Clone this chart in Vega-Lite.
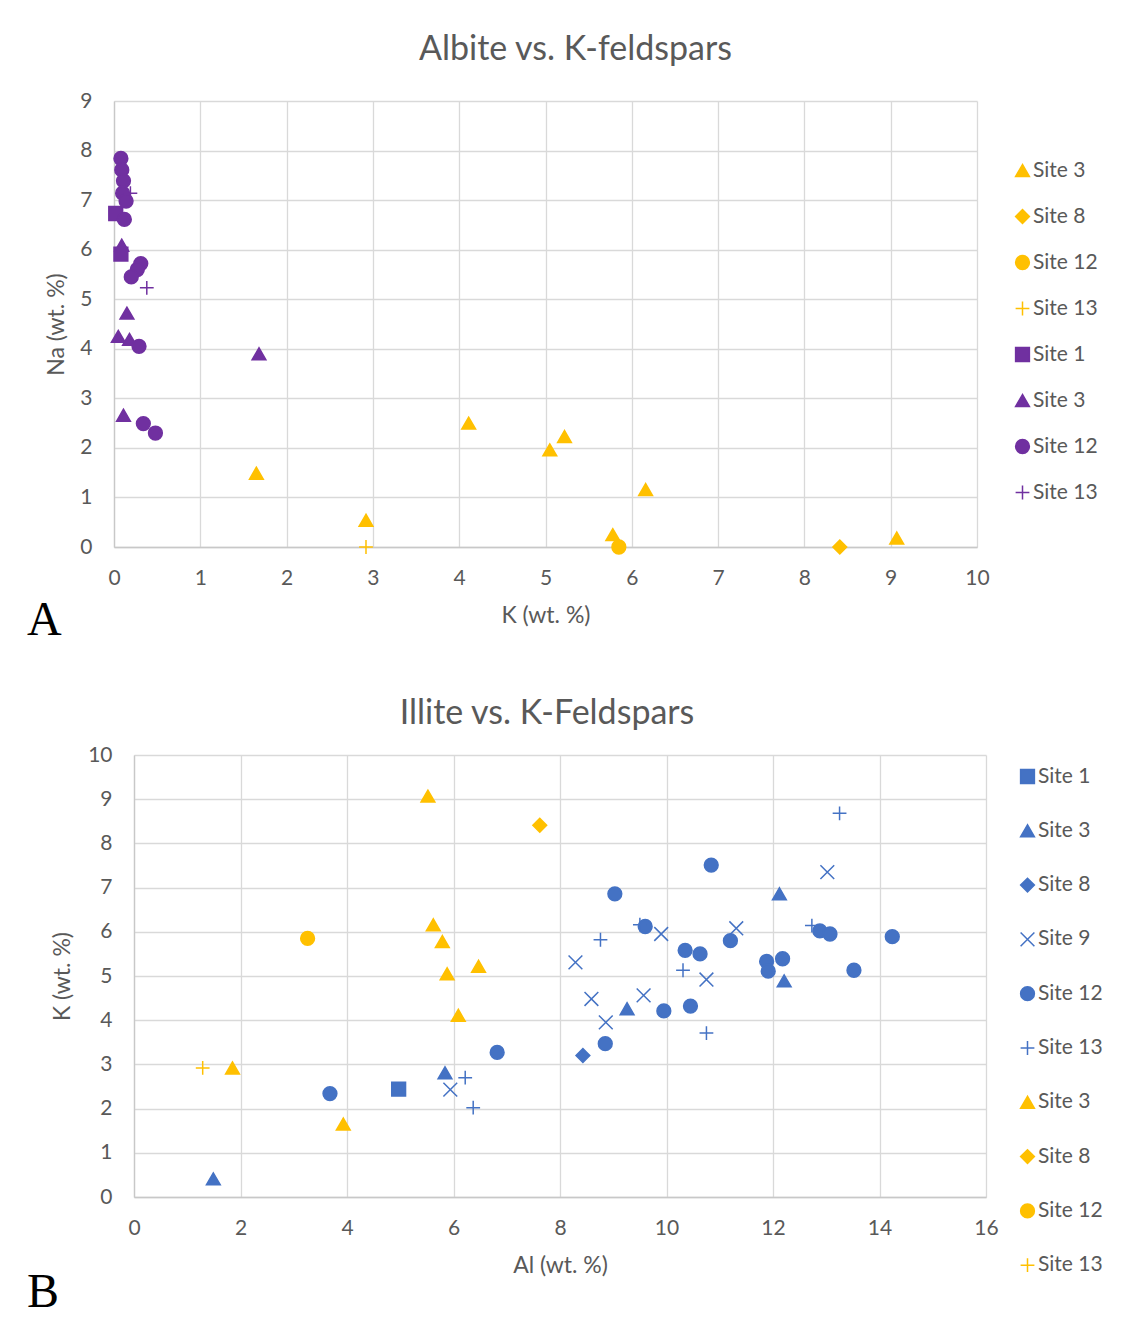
{
  "$schema": "https://vega.github.io/schema/vega-lite/v6.json",
  "background": "white",
  "padding": {"left": 27, "top": 33, "right": 0, "bottom": 0},
  "spacing": 52,
  "config": {
    "font": "Lato",
    "view": {"stroke": null},
    "axis": {
      "labelFont": "Lato",
      "labelFontSize": 21,
      "labelColor": "#595959",
      "labelFlush": false,
      "titleFont": "Lato",
      "titleFontSize": 23,
      "titleColor": "#595959",
      "titleFontWeight": "normal",
      "ticks": false,
      "grid": true,
      "gridColor": "#d9d9d9",
      "gridWidth": 1.3,
      "domainColor": "#c8c8c8",
      "domainWidth": 1.3
    },
    "axisX": {"labelPadding": 20, "titlePadding": 16},
    "legend": {
      "labelFont": "Lato",
      "labelFontSize": 21,
      "labelColor": "#595959",
      "symbolSize": 190,
      "symbolStrokeWidth": 1.5,
      "labelOffset": 0,
      "padding": 0
    },
    "title": {"font": "Lato", "fontWeight": "normal", "color": "#595959"}
  },
  "resolve": {"scale": {"color": "independent", "shape": "independent", "stroke": "independent"}},
  "vconcat": [
    {
      "title": {"text": "A", "orient": "bottom", "anchor": "start", "frame": "bounds", "font": "Liberation Serif", "fontSize": 48, "color": "#000000", "offset": -30, "dx": 0},
      "resolve": {"scale": {"color": "independent", "shape": "independent", "stroke": "independent"}},
      "spacing": 0,
      "hconcat": [
        {
          "width": 18,
          "height": 1,
          "data": {"values": [{}]},
          "mark": {"type": "text", "text": ""},
          "encoding": {}
        },
        {
          "width": 863,
          "height": 446,
          "title": {"text": "Albite vs. K-feldspars", "fontSize": 34, "anchor": "middle", "frame": "group", "dx": 30, "offset": 23},
          "data": {
            "values": [
              {"series": "K-feldspar: Site 3", "K": 1.65, "Na": 1.49},
              {"series": "K-feldspar: Site 3", "K": 2.92, "Na": 0.54},
              {"series": "K-feldspar: Site 3", "K": 4.11, "Na": 2.5},
              {"series": "K-feldspar: Site 3", "K": 5.05, "Na": 1.96},
              {"series": "K-feldspar: Site 3", "K": 5.22, "Na": 2.23},
              {"series": "K-feldspar: Site 3", "K": 5.78, "Na": 0.25},
              {"series": "K-feldspar: Site 3", "K": 6.16, "Na": 1.16},
              {"series": "K-feldspar: Site 3", "K": 9.07, "Na": 0.18},
              {"series": "K-feldspar: Site 8", "K": 8.41, "Na": 0},
              {"series": "K-feldspar: Site 12", "K": 5.85, "Na": 0},
              {"series": "K-feldspar: Site 13", "K": 2.92, "Na": 0},
              {"series": "Albite: Site 1", "K": 0.02, "Na": 6.73},
              {"series": "Albite: Site 1", "K": 0.08, "Na": 5.91},
              {"series": "Albite: Site 3", "K": 0.09, "Na": 6.09},
              {"series": "Albite: Site 3", "K": 0.15, "Na": 4.72},
              {"series": "Albite: Site 3", "K": 0.05, "Na": 4.25},
              {"series": "Albite: Site 3", "K": 0.18, "Na": 4.19},
              {"series": "Albite: Site 3", "K": 1.68, "Na": 3.9},
              {"series": "Albite: Site 3", "K": 0.11, "Na": 2.66},
              {"series": "Albite: Site 12", "K": 0.08, "Na": 7.84},
              {"series": "Albite: Site 12", "K": 0.09, "Na": 7.61},
              {"series": "Albite: Site 12", "K": 0.11, "Na": 7.39},
              {"series": "Albite: Site 12", "K": 0.1, "Na": 7.14},
              {"series": "Albite: Site 12", "K": 0.14, "Na": 6.98},
              {"series": "Albite: Site 12", "K": 0.12, "Na": 6.61},
              {"series": "Albite: Site 12", "K": 0.31, "Na": 5.72},
              {"series": "Albite: Site 12", "K": 0.27, "Na": 5.6},
              {"series": "Albite: Site 12", "K": 0.2, "Na": 5.45},
              {"series": "Albite: Site 12", "K": 0.29, "Na": 4.05},
              {"series": "Albite: Site 12", "K": 0.34, "Na": 2.49},
              {"series": "Albite: Site 12", "K": 0.48, "Na": 2.3},
              {"series": "Albite: Site 13", "K": 0.19, "Na": 7.14},
              {"series": "Albite: Site 13", "K": 0.38, "Na": 5.23}
            ]
          },
          "mark": {"type": "point", "filled": true, "size": 190, "strokeWidth": 1.5, "opacity": 1},
          "encoding": {
            "x": {
              "field": "K", "type": "quantitative",
              "scale": {"domain": [0, 10], "nice": false, "zero": true},
              "axis": {"title": "K (wt. %)", "values": [0, 1, 2, 3, 4, 5, 6, 7, 8, 9, 10], "format": "d"}
            },
            "y": {
              "field": "Na", "type": "quantitative",
              "scale": {"domain": [0, 9], "nice": false},
              "axis": {"title": "Na (wt. %)", "values": [0, 1, 2, 3, 4, 5, 6, 7, 8, 9], "format": "d", "labelPadding": 22, "titlePadding": 11}
            },
            "color": {
              "field": "series", "type": "nominal",
              "scale": {
                "domain": ["K-feldspar: Site 3", "K-feldspar: Site 8", "K-feldspar: Site 12", "K-feldspar: Site 13", "Albite: Site 1", "Albite: Site 3", "Albite: Site 12", "Albite: Site 13"],
                "range": ["#FFC000", "#FFC000", "#FFC000", "#FFC000", "#7030A0", "#7030A0", "#7030A0", "#7030A0"]
              },
              "legend": {"title": null, "orient": "none", "legendX": 898, "legendY": 59, "rowPadding": 24, "labelExpr": "split(datum.label, ': ')[1]"}
            },
            "stroke": {
              "field": "series", "type": "nominal",
              "scale": {
                "domain": ["K-feldspar: Site 3", "K-feldspar: Site 8", "K-feldspar: Site 12", "K-feldspar: Site 13", "Albite: Site 1", "Albite: Site 3", "Albite: Site 12", "Albite: Site 13"],
                "range": ["#FFC000", "#FFC000", "#FFC000", "#FFC000", "#7030A0", "#7030A0", "#7030A0", "#7030A0"]
              },
              "legend": {"title": null, "orient": "none", "legendX": 898, "legendY": 59, "rowPadding": 24, "labelExpr": "split(datum.label, ': ')[1]"}
            },
            "shape": {
              "field": "series", "type": "nominal",
              "scale": {
                "domain": ["K-feldspar: Site 3", "K-feldspar: Site 8", "K-feldspar: Site 12", "K-feldspar: Site 13", "Albite: Site 1", "Albite: Site 3", "Albite: Site 12", "Albite: Site 13"],
                "range": ["triangle-up", "diamond", "circle", "M-1,0L1,0M0,-1L0,1", "square", "triangle-up", "circle", "M-1,0L1,0M0,-1L0,1"]
              },
              "legend": {"title": null, "orient": "none", "legendX": 898, "legendY": 59, "rowPadding": 24, "labelExpr": "split(datum.label, ': ')[1]"}
            }
          }
        }
      ]
    },
    {
      "title": {"text": "B", "orient": "bottom", "anchor": "start", "frame": "bounds", "font": "Liberation Serif", "fontSize": 48, "color": "#000000", "offset": -8, "dx": 0},
      "resolve": {"scale": {"color": "independent", "shape": "independent", "stroke": "independent"}},
      "spacing": 0,
      "hconcat": [
        {
          "width": 24,
          "height": 1,
          "data": {"values": [{}]},
          "mark": {"type": "text", "text": ""},
          "encoding": {}
        },
        {
          "width": 852,
          "height": 442,
          "title": {"text": "Illite vs. K-Feldspars", "fontSize": 34, "anchor": "middle", "frame": "group", "dx": -13, "offset": 13},
          "data": {
            "values": [
              {"series": "Illite: Site 1", "Al": 4.97, "K": 2.44},
              {"series": "Illite: Site 3", "Al": 1.49, "K": 0.41},
              {"series": "Illite: Site 3", "Al": 5.84, "K": 2.81},
              {"series": "Illite: Site 3", "Al": 9.26, "K": 4.26},
              {"series": "Illite: Site 3", "Al": 12.12, "K": 6.86},
              {"series": "Illite: Site 3", "Al": 12.21, "K": 4.89},
              {"series": "Illite: Site 8", "Al": 8.43, "K": 3.2},
              {"series": "Illite: Site 9", "Al": 5.94, "K": 2.43},
              {"series": "Illite: Site 9", "Al": 8.29, "K": 5.31},
              {"series": "Illite: Site 9", "Al": 8.59, "K": 4.48},
              {"series": "Illite: Site 9", "Al": 8.86, "K": 3.95},
              {"series": "Illite: Site 9", "Al": 9.57, "K": 4.56},
              {"series": "Illite: Site 9", "Al": 9.9, "K": 5.95},
              {"series": "Illite: Site 9", "Al": 10.75, "K": 4.92},
              {"series": "Illite: Site 9", "Al": 11.31, "K": 6.08},
              {"series": "Illite: Site 9", "Al": 13.02, "K": 7.35},
              {"series": "Illite: Site 12", "Al": 3.68, "K": 2.34},
              {"series": "Illite: Site 12", "Al": 6.82, "K": 3.27},
              {"series": "Illite: Site 12", "Al": 8.85, "K": 3.47},
              {"series": "Illite: Site 12", "Al": 9.03, "K": 6.86},
              {"series": "Illite: Site 12", "Al": 9.6, "K": 6.12},
              {"series": "Illite: Site 12", "Al": 9.95, "K": 4.21},
              {"series": "Illite: Site 12", "Al": 10.35, "K": 5.58},
              {"series": "Illite: Site 12", "Al": 10.45, "K": 4.32},
              {"series": "Illite: Site 12", "Al": 10.63, "K": 5.5},
              {"series": "Illite: Site 12", "Al": 10.84, "K": 7.51},
              {"series": "Illite: Site 12", "Al": 11.2, "K": 5.8},
              {"series": "Illite: Site 12", "Al": 11.88, "K": 5.33},
              {"series": "Illite: Site 12", "Al": 11.91, "K": 5.11},
              {"series": "Illite: Site 12", "Al": 12.18, "K": 5.39},
              {"series": "Illite: Site 12", "Al": 12.88, "K": 6.02},
              {"series": "Illite: Site 12", "Al": 13.07, "K": 5.95},
              {"series": "Illite: Site 12", "Al": 13.52, "K": 5.13},
              {"series": "Illite: Site 12", "Al": 14.24, "K": 5.89},
              {"series": "Illite: Site 13", "Al": 6.22, "K": 2.7},
              {"series": "Illite: Site 13", "Al": 6.37, "K": 2.02},
              {"series": "Illite: Site 13", "Al": 8.76, "K": 5.82},
              {"series": "Illite: Site 13", "Al": 9.5, "K": 6.16},
              {"series": "Illite: Site 13", "Al": 10.31, "K": 5.13},
              {"series": "Illite: Site 13", "Al": 10.75, "K": 3.71},
              {"series": "Illite: Site 13", "Al": 12.73, "K": 6.14},
              {"series": "Illite: Site 13", "Al": 13.25, "K": 8.68},
              {"series": "K-feldspar: Site 3", "Al": 5.52, "K": 9.07},
              {"series": "K-feldspar: Site 3", "Al": 5.62, "K": 6.16},
              {"series": "K-feldspar: Site 3", "Al": 5.79, "K": 5.78},
              {"series": "K-feldspar: Site 3", "Al": 5.88, "K": 5.05},
              {"series": "K-feldspar: Site 3", "Al": 6.47, "K": 5.22},
              {"series": "K-feldspar: Site 3", "Al": 6.09, "K": 4.11},
              {"series": "K-feldspar: Site 3", "Al": 1.85, "K": 2.92},
              {"series": "K-feldspar: Site 3", "Al": 3.93, "K": 1.65},
              {"series": "K-feldspar: Site 8", "Al": 7.62, "K": 8.41},
              {"series": "K-feldspar: Site 12", "Al": 3.26, "K": 5.85},
              {"series": "K-feldspar: Site 13", "Al": 1.29, "K": 2.92}
            ]
          },
          "mark": {"type": "point", "filled": true, "size": 190, "strokeWidth": 1.5, "opacity": 1},
          "encoding": {
            "x": {
              "field": "Al", "type": "quantitative",
              "scale": {"domain": [0, 16], "nice": false},
              "axis": {"title": "Al (wt. %)", "values": [0, 2, 4, 6, 8, 10, 12, 14, 16], "format": "d"}
            },
            "y": {
              "field": "K", "type": "quantitative",
              "scale": {"domain": [0, 10], "nice": false},
              "axis": {"title": "K (wt. %)", "values": [0, 1, 2, 3, 4, 5, 6, 7, 8, 9, 10], "format": "d", "labelPadding": 22, "titlePadding": 13}
            },
            "color": {
              "field": "series", "type": "nominal",
              "scale": {
                "domain": ["Illite: Site 1", "Illite: Site 3", "Illite: Site 8", "Illite: Site 9", "Illite: Site 12", "Illite: Site 13", "K-feldspar: Site 3", "K-feldspar: Site 8", "K-feldspar: Site 12", "K-feldspar: Site 13"],
                "range": ["#4472C4", "#4472C4", "#4472C4", "#4472C4", "#4472C4", "#4472C4", "#FFC000", "#FFC000", "#FFC000", "#FFC000"]
              },
              "legend": {"title": null, "orient": "none", "legendX": 883, "legendY": 11, "rowPadding": 32.3, "labelExpr": "split(datum.label, ': ')[1]"}
            },
            "stroke": {
              "field": "series", "type": "nominal",
              "scale": {
                "domain": ["Illite: Site 1", "Illite: Site 3", "Illite: Site 8", "Illite: Site 9", "Illite: Site 12", "Illite: Site 13", "K-feldspar: Site 3", "K-feldspar: Site 8", "K-feldspar: Site 12", "K-feldspar: Site 13"],
                "range": ["#4472C4", "#4472C4", "#4472C4", "#4472C4", "#4472C4", "#4472C4", "#FFC000", "#FFC000", "#FFC000", "#FFC000"]
              },
              "legend": {"title": null, "orient": "none", "legendX": 883, "legendY": 11, "rowPadding": 32.3, "labelExpr": "split(datum.label, ': ')[1]"}
            },
            "shape": {
              "field": "series", "type": "nominal",
              "scale": {
                "domain": ["Illite: Site 1", "Illite: Site 3", "Illite: Site 8", "Illite: Site 9", "Illite: Site 12", "Illite: Site 13", "K-feldspar: Site 3", "K-feldspar: Site 8", "K-feldspar: Site 12", "K-feldspar: Site 13"],
                "range": ["square", "triangle-up", "diamond", "M-1,-1L1,1M-1,1L1,-1", "circle", "M-1,0L1,0M0,-1L0,1", "triangle-up", "diamond", "circle", "M-1,0L1,0M0,-1L0,1"]
              },
              "legend": {"title": null, "orient": "none", "legendX": 883, "legendY": 11, "rowPadding": 32.3, "labelExpr": "split(datum.label, ': ')[1]"}
            }
          }
        }
      ]
    }
  ]
}
